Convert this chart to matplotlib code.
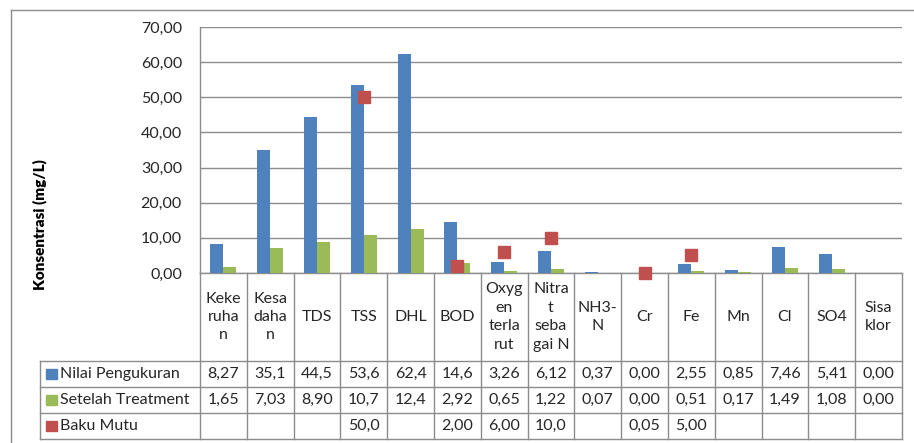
import matplotlib
matplotlib.use("Agg")
import matplotlib.pyplot as plt
import numpy as np
from matplotlib.lines import Line2D
from matplotlib.patches import Rectangle

categories = ["Keke\nruha\nn", "Kesa\ndaha\nn", "TDS", "TSS", "DHL", "BOD",
              "Oxyg\nen\nterla\nrut", "Nitra\nt\nseba\ngai N", "NH3-\nN", "Cr",
              "Fe", "Mn", "Cl", "SO4", "Sisa\nklor"]
nilai_pengukuran = [8.27, 35.1, 44.5, 53.6, 62.4, 14.6, 3.26, 6.12, 0.37, 0.00,
                    2.55, 0.85, 7.46, 5.41, 0.00]
setelah_treatment = [1.65, 7.03, 8.90, 10.7, 12.4, 2.92, 0.65, 1.22, 0.07, 0.00,
                     0.51, 0.17, 1.49, 1.08, 0.00]
baku_mutu = [None, None, None, 50.0, None, 2.00, 6.00, 10.0, None, 0.05,
             5.00, None, None, None, None]
series_names = ["Nilai Pengukuran", "Setelah Treatment", "Baku Mutu"]
yticks = [0, 10, 20, 30, 40, 50, 60, 70]

BLUE = "#4F81BD"
GREEN = "#9BBB59"
RED = "#C0504D"
GRID = "#8C8C8C"
TXT = "#262626"
FONT = "Lato"
FS = 11.5

W, H = 914, 443
fig = plt.figure(figsize=(W / 100, H / 100), dpi=100)
fig.patch.set_facecolor("white")

# overlay in pixel coordinates for frame and data table
ov = fig.add_axes([0, 0, 1, 1])
ov.set_xlim(0, W)
ov.set_ylim(H, 0)
ov.axis("off")

# plot area in pixels
PL, PR, PT, PB = 200, 902, 27, 273
n = len(categories)
cw = (PR - PL) / n

ax = fig.add_axes([PL / W, 1 - PB / H, (PR - PL) / W, (PB - PT) / H])
ax.patch.set_alpha(0)
x = np.arange(n)
bw = 0.278
ax.bar(x - bw / 2, nilai_pengukuran, bw, color=BLUE, zorder=3)
ax.bar(x + bw / 2, setelah_treatment, bw, color=GREEN, zorder=3)
bx = [i for i, v in enumerate(baku_mutu) if v is not None]
by = [v for v in baku_mutu if v is not None]
ax.plot(bx, by, "s", color=RED, markersize=9, linestyle="none", zorder=4,
        clip_on=False)
ax.set_xlim(-0.5, n - 0.5)
ax.set_ylim(0, 70)
ax.set_yticks(yticks)
ax.yaxis.set_major_formatter(plt.FuncFormatter(lambda v, p: f"{v:.2f}".replace(".", ",")))
ax.set_xticks([])
ax.tick_params(axis="y", length=0, pad=13, labelsize=FS, labelcolor=TXT)
for lab in ax.get_yticklabels():
    lab.set_fontfamily(FONT)
ax.grid(axis="y", color=GRID, linewidth=1.0, zorder=0)
for s in ["top", "right", "bottom"]:
    ax.spines[s].set_visible(False)
ax.spines["left"].set_color(GRID)
ax.spines["left"].set_linewidth(1.0)

# outer chart frame
ov.add_line(Line2D([11, 11], [10, H], color=GRID, lw=1.0))
ov.add_line(Line2D([11, W], [10, 10], color=GRID, lw=1.0))

# data table
rows = [273, 361, 387, 413, 439]
TL = 40
lc = GRID
lw = 1.0
ov.add_line(Line2D([PL, PR], [rows[0], rows[0]], color=lc, lw=lw))
for r in rows[1:]:
    ov.add_line(Line2D([TL, PR], [r, r], color=lc, lw=lw))
ov.add_line(Line2D([TL, TL], [rows[1], rows[-1]], color=lc, lw=lw))
for i in range(n + 1):
    xp = PL + i * cw
    ov.add_line(Line2D([xp, xp], [rows[0], rows[-1]], color=lc, lw=lw))

def fmt(v):
    if v is None:
        return ""
    s = f"{v:.1f}" if v >= 10 else f"{v:.2f}"
    return s.replace(".", ",")

for i, c in enumerate(categories):
    xc = PL + (i + 0.5) * cw
    ov.text(xc, (rows[0] + rows[1]) / 2, c, ha="center", va="center",
            fontsize=FS, family=FONT, color=TXT, linespacing=1.4)
    for j, ser in enumerate([nilai_pengukuran, setelah_treatment, baku_mutu]):
        ov.text(xc, (rows[j + 1] + rows[j + 2]) / 2, fmt(ser[i]), ha="center",
                va="center", fontsize=FS, family=FONT, color=TXT)

for j, (name, col) in enumerate(zip(series_names, [BLUE, GREEN, RED])):
    yc = (rows[j + 1] + rows[j + 2]) / 2
    ov.add_patch(Rectangle((46, yc - 5), 11, 10, color=col))
    ov.text(60, yc, name, ha="left", va="center", fontsize=FS, family=FONT,
            color=TXT)

fig.text(40 / W, 1 - 225 / H, "Konsentrasi (mg/L)", rotation=90, ha="center",
         va="center", fontsize=11, family=FONT, weight="heavy", color="black")

fig.savefig("out.png", dpi=100, facecolor="white")
